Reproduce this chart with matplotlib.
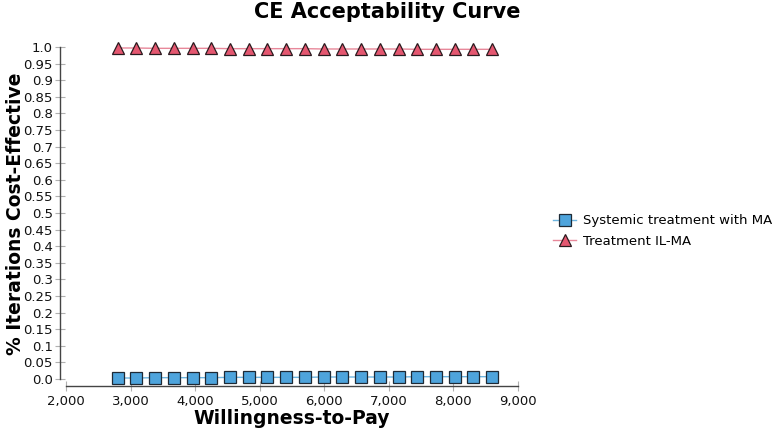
import matplotlib
matplotlib.use("Agg")
import matplotlib.pyplot as plt
from matplotlib.ticker import FuncFormatter, MultipleLocator

wtp = [2800, 3090, 3380, 3670, 3960, 4250, 4540, 4830, 5120, 5410, 5700,
       5990, 6280, 6570, 6860, 7150, 7440, 7730, 8020, 8310, 8600]
systemic = [0.003, 0.003, 0.004, 0.004, 0.004, 0.004, 0.005, 0.005, 0.005, 0.005, 0.005,
            0.006, 0.006, 0.006, 0.006, 0.006, 0.007, 0.007, 0.007, 0.007, 0.007]
il_ma = [1 - v for v in systemic]

series_names = ["Systemic treatment with MA", "Treatment IL-MA"]
title = "CE Acceptability Curve"
xlabel = "Willingness-to-Pay"
ylabel = "% Iterations Cost-Effective"

plt.rcParams['font.family'] = ['DejaVu Sans']

fig = plt.figure(figsize=(7.72, 4.32), dpi=100)
ax = fig.add_axes([66/772, (432-386)/432, (518-66)/772, (386-40)/432])

ax.plot(wtp, systemic, color="#6fb6e0", lw=1, marker="s", markersize=8,
        markerfacecolor="#4ea4dc", markeredgecolor="#1e2a36", markeredgewidth=0.9,
        label=series_names[0], zorder=3)
ax.plot(wtp, il_ma, color="#e8889a", lw=1, marker="^", markersize=8.5,
        markerfacecolor="#e45770", markeredgecolor="#2a1a1e", markeredgewidth=0.9,
        label=series_names[1], zorder=3)

ax.set_xlim(2000, 9000)
ax.set_ylim(-7/332, 1 + 7/332)
ax.xaxis.set_major_locator(MultipleLocator(1000))
ax.yaxis.set_major_locator(MultipleLocator(0.05))
ax.xaxis.set_major_formatter(FuncFormatter(lambda v, p: f"{int(round(v)):,}"))

def yfmt(v, p):
    s = f"{v:.2f}"
    if s.endswith("0"):
        s = s[:-1]
    return s
ax.yaxis.set_major_formatter(FuncFormatter(yfmt))

for s in ["top", "right"]:
    ax.spines[s].set_visible(False)
ax.spines["left"].set_position(("outward", 4))
ax.spines["left"].set_bounds(0, 1)
ax.spines["bottom"].set_bounds(2000, 9000)
for s in ["left", "bottom"]:
    ax.spines[s].set_color("#444444")
    ax.spines[s].set_linewidth(1)

ax.tick_params(axis="both", direction="inout", length=7, width=0.8,
               color="#b0b0b0", labelsize=9.5, labelcolor="#111111")
ax.tick_params(axis="y", pad=2)
ax.tick_params(axis="x", pad=3)

fig.text(387/772, 1 - 12/432, title, ha="center", va="center",
         fontsize=15, fontweight="bold", color="#000000")
fig.text(292/772, 1 - 418/432, xlabel, ha="center", va="center",
         fontsize=13.5, fontweight="bold", color="#000000")
fig.text(16/772, 1 - 214/432, ylabel, ha="center", va="center", rotation=90,
         fontsize=13.5, fontweight="bold", color="#000000")

leg = fig.legend(loc="center left", bbox_to_anchor=(553/772, 1 - 231/432),
                 frameon=False, fontsize=9.5, handlelength=1.75, handletextpad=0.5,
                 labelspacing=0.55, borderaxespad=0, borderpad=0)

fig.savefig("out.png", dpi=100)
